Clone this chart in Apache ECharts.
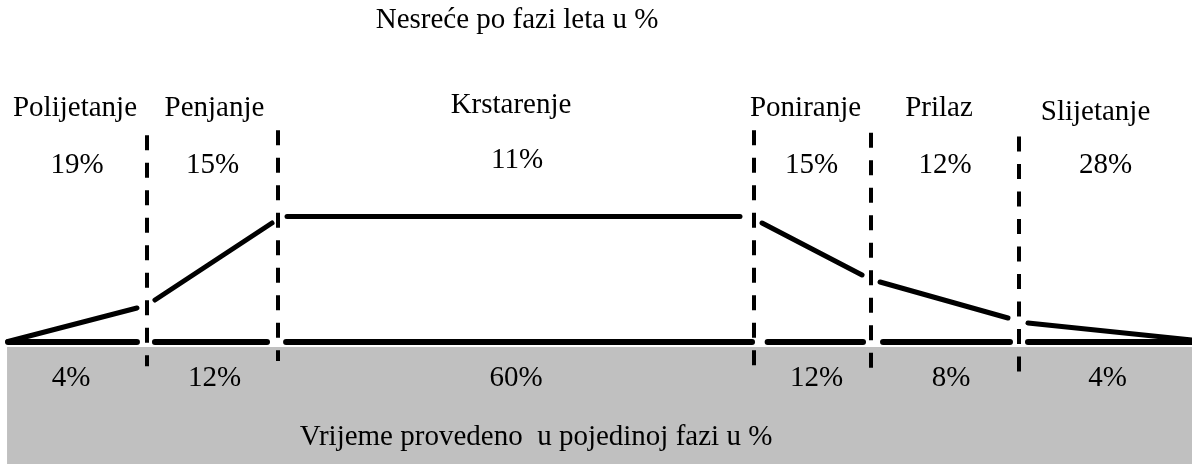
<!DOCTYPE html>
<html>
<head>
<meta charset="utf-8">
<script src="https://cdn.jsdelivr.net/npm/echarts@6/dist/echarts.min.js"></script>
<style>
  html, body { margin: 0; padding: 0; background: #fff; }
  #chart { width: 1192px; height: 464px; }
</style>
</head>
<body>
<div id="chart"></div>
<script>
// phases of flight
const phases = ['Polijetanje', 'Penjanje', 'Krstarenje', 'Poniranje', 'Prilaz', 'Slijetanje'];
const accidentPct = [19, 15, 11, 15, 12, 28];   // nesreće po fazi
const timePct = [4, 12, 60, 12, 8, 4];          // vrijeme provedeno u fazi

// phase boundaries along the flight axis (0..100)
const phaseBounds = [0.59, 12.33, 23.32, 63.26, 73.07, 85.49, 100];

// profile segment per phase (start/end along axis, start/end height)
const riskFrom = [0.67, 13.0, 24.08, 63.93, 73.83, 86.24];
const riskTo = [11.49, 22.82, 62.08, 72.32, 84.56, 100];
const riskStart = [0, 3.32, 10, 9.48, 4.76, 1.48];
const riskEnd = [2.68, 9.48, 10, 5.32, 1.88, 0.12];

// ground line pieces
const baseFrom = [0.67, 13.0, 24.0, 64.4, 74.08, 86.24];
const baseTo = [11.49, 22.4, 63.09, 72.4, 84.73, 100];

// dashed dividers between phases
const dividerTop = [16.5, 16.9, 16.9, 16.7, 16.4];
const dividerBottom = [-1.97, -1.56, -2.04, -2.12, -2.44];

const nameLevel = 18.65;
const accidentLevel = 14.1;
const timeLevel = -2.92;
const bandTop = -0.44;

const font = '"Liberation Serif", "Times New Roman", serif';
const fontSize = 29;

// small label nudges (px)
const nameShift = [[-2, 0], [2, 0], [-5, -3], [-7, 0], [-6, 0], [-10, 4]];
const pctShift = [[0, 0], [0, 0], [1, -5], [-1, 0], [0, 0], [0, 0]];
const timeShift = [[-6, 0], [2, 0], [0, 0], [4, 0], [6, 0], [2, 0]];

let centers = phases.map((p, i) => (phaseBounds[i] + phaseBounds[i + 1]) / 2);

function textSeries(name, level, texts, shifts) {
  return {
    name: name,
    type: 'scatter',
    z: 5,
    symbol: 'circle',
    symbolSize: 1,
    silent: true,
    itemStyle: { color: 'transparent', opacity: 1 },
    data: texts.map((t, i) => ({
      value: [centers[i], level],
      label: { offset: shifts[i] },
      txt: t
    })),
    label: {
      show: true,
      position: 'inside',
      color: '#000',
      opacity: 1,
      textBorderWidth: 0,
      fontFamily: font,
      fontSize: fontSize,
      formatter: p => p.data.txt
    }
  };
}

let chart = echarts.init(document.getElementById('chart'));
let option = {
  animation: false,
  grid: { left: 0, right: 0, top: 91.5, bottom: 0 },
  xAxis: { type: 'value', min: 0, max: 100, show: false },
  yAxis: { type: 'value', min: -9.8, max: 20, show: false },
  graphic: [
    {
      type: 'text', x: 517, y: 20,
      style: { text: 'Nesreće po fazi leta u %', fill: '#000', font: fontSize + 'px ' + font, textAlign: 'center', textVerticalAlign: 'middle' }
    },
    {
      type: 'text', x: 536, y: 437, z: 10,
      style: { text: 'Vrijeme provedeno  u pojedinoj fazi u %', fill: '#000', font: fontSize + 'px ' + font, textAlign: 'center', textVerticalAlign: 'middle' }
    }
  ],
  series: [
    {
      name: 'band',
      type: 'scatter',
      z: 0,
      silent: true,
      symbolSize: 0,
      data: [[50, -5]],
      markArea: {
        silent: true,
        itemStyle: { color: '#c0c0c0' },
        data: [[{ coord: [phaseBounds[0], bandTop] }, { coord: [100, -9.8] }]]
      }
    },
    {
      name: 'ground',
      type: 'lines',
      coordinateSystem: 'cartesian2d',
      z: 3,
      silent: true,
      lineStyle: { color: '#000', width: 6, opacity: 1, cap: 'round' },
      data: baseFrom.map((x, i) => ({ coords: [[x, 0], [baseTo[i], 0]] }))
    },
    {
      name: 'profile',
      type: 'lines',
      coordinateSystem: 'cartesian2d',
      z: 3,
      silent: true,
      lineStyle: { color: '#000', width: 5, opacity: 1, cap: 'round' },
      data: riskFrom.map((x, i) => ({ coords: [[x, riskStart[i]], [riskTo[i], riskEnd[i]]] }))
    },
    {
      name: 'dividers',
      type: 'lines',
      coordinateSystem: 'cartesian2d',
      z: 4,
      silent: true,
      lineStyle: { color: '#000', width: 4, opacity: 1, type: [15, 12.5] },
      data: dividerTop.map((t, i) => ({ coords: [[phaseBounds[i + 1], t], [phaseBounds[i + 1], dividerBottom[i]]] }))
    },
    textSeries('faze', nameLevel, phases, nameShift),
    textSeries('nesrece', accidentLevel, accidentPct.map(v => v + '%'), pctShift),
    textSeries('vrijeme', timeLevel, timePct.map(v => v + '%'), timeShift)
  ]
};
chart.setOption(option);
</script>
</body>
</html>
